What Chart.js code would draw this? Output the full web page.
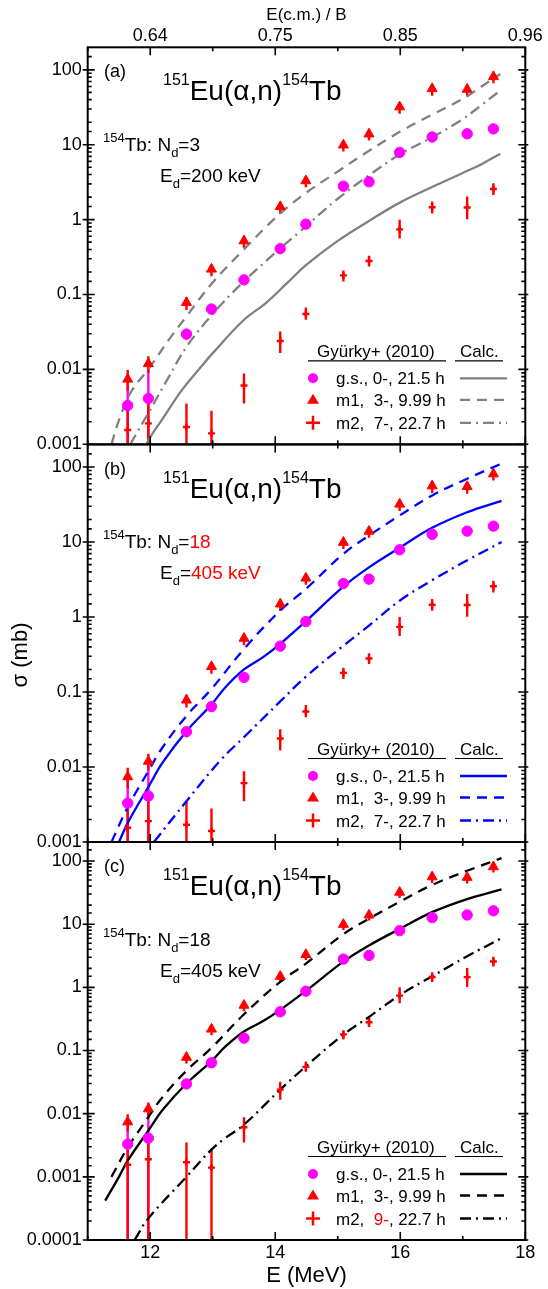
<!DOCTYPE html>
<html>
<head>
<meta charset="utf-8">
<script src="https://cdn.jsdelivr.net/npm/chart.js"></script>
<style>
html, body { margin: 0; padding: 0; background: #fff; }
body { width: 548px; height: 1289px; position: relative; overflow: hidden; }
canvas { position: absolute; left: 0; }
</style>
</head>
<body>
<canvas id="pa" width="548" height="452" style="top:0px"></canvas>
<canvas id="pb" width="548" height="420" style="top:437px"></canvas>
<canvas id="pc" width="548" height="455" style="top:834px"></canvas>
<script>
// measured points, Gyurky+ (2010) -- energies in MeV, sigma in mb
const energy = [11.64, 11.97, 12.58, 12.98, 13.50, 14.08, 14.49, 15.09, 15.50, 15.99, 16.51, 17.07, 17.49];

const gsSigma = [0.0033, 0.0041, 0.0296, 0.064, 0.157, 0.41, 0.87, 2.8, 3.2, 7.9, 12.7, 14.0, 16.3];
const gsHi    = [0.0072, 0.0105, 0.035, 0.074, 0.18, 0.47, 0.98, 3.1, 3.6, 8.8, 14.2, 15.6, 18.3];
const gsLo    = [0, 0, 0.025, 0.054, 0.135, 0.35, 0.76, 2.5, 2.85, 7.0, 11.3, 12.5, 14.4];

const m1Sigma = [0.0074, 0.0119, 0.078, 0.218, 0.52, 1.49, 3.3, 9.9, 13.9, 32, 56, 55, 81];
const m1Hi    = [0.0098, 0.0150, 0.092, 0.25, 0.60, 1.72, 3.8, 11.4, 16.0, 37, 65, 63, 95];
const m1Lo    = [0.0052, 0.0090, 0.062, 0.175, 0.42, 1.20, 2.7, 8.1, 11.4, 26, 45, 44, 66];

const m2Sigma = [0.00155, 0.0019, 0.0017, 0.0014, 0.0061, 0.024, 0.055, 0.18, 0.28, 0.74, 1.46, 1.45, 2.57];
const m2Hi    = [0.0031, 0.0039, 0.0035, 0.0028, 0.0088, 0.032, 0.067, 0.21, 0.33, 1.0, 1.74, 2.03, 3.05];
const m2Lo    = [0, 0, 0, 0, 0.0035, 0.0166, 0.046, 0.149, 0.236, 0.56, 1.21, 1.01, 2.13];

// calculations, panel (a): Nd=3, Ed=200 keV
const aGsE = [11.94, 12.0, 12.2, 12.5, 12.8, 13.0, 13.5, 13.85, 14.2, 14.5, 15.0, 15.5, 16.0, 16.5, 17.0, 17.3, 17.6];
const aGs  = [0.001, 0.00125, 0.0022, 0.0052, 0.0105, 0.0165, 0.046, 0.077, 0.145, 0.25, 0.52, 0.96, 1.7, 2.7, 4.2, 5.5, 7.6];
const aM1E = [11.38, 11.5, 11.68, 12.0, 12.3, 12.58, 13.0, 13.5, 14.0, 14.4, 15.0, 15.5, 16.0, 16.5, 17.0, 17.3, 17.6];
const aM1  = [0.001, 0.0021, 0.0048, 0.0109, 0.025, 0.051, 0.145, 0.40, 1.05, 2.0, 4.4, 8.3, 15, 25, 41, 60, 88];
const aM2E = [11.68, 12.0, 12.3, 12.58, 13.0, 13.5, 14.0, 14.4, 15.0, 15.5, 16.0, 16.5, 17.0, 17.3, 17.6];
const aM2  = [0.001, 0.0029, 0.008, 0.02, 0.055, 0.15, 0.36, 0.7, 1.9, 3.9, 7.5, 12.5, 22, 34, 53];

// calculations, panels (b) and (c): Nd=18, Ed=405 keV
const bcGsE = [11.28, 11.5, 11.64, 11.97, 12.2, 12.58, 12.98, 13.2, 13.5, 13.8, 14.08, 14.49, 15.09, 15.5, 15.99, 16.51, 17.07, 17.62];
const bcGs  = [0.00042, 0.001, 0.0018, 0.0054, 0.0115, 0.030, 0.068, 0.115, 0.20, 0.29, 0.44, 0.88, 2.55, 4.6, 8.4, 15.5, 25, 35.5];
const bcM1E = [11.38, 11.64, 11.97, 12.18, 12.58, 12.98, 13.5, 14.08, 14.49, 15.09, 15.5, 15.99, 16.51, 17.07, 17.62];
const bcM1  = [0.001, 0.0029, 0.0088, 0.0174, 0.048, 0.11, 0.375, 1.22, 2.37, 6.95, 12.2, 22.6, 41.8, 70, 111];
const bM2E  = [12.06, 12.58, 13.14, 13.5, 14.08, 14.49, 15.09, 15.5, 15.99, 16.51, 17.07, 17.62];
const bM2   = [0.001, 0.0035, 0.0127, 0.025, 0.075, 0.16, 0.415, 0.77, 1.65, 3.1, 5.7, 10];
const cM2E  = [11.75, 11.97, 12.58, 12.98, 13.2, 13.5, 14.08, 14.49, 15.09, 15.5, 15.99, 16.51, 17.07, 17.62];
const cM2   = [0.0001, 0.00022, 0.001, 0.0027, 0.0041, 0.0067, 0.024, 0.056, 0.178, 0.34, 0.75, 1.5, 3.1, 6.0];

// axes
const xMin = 11, xMax = 18;
const bottomTicks = [12, 14, 16, 18];
const topTickLabels = ['0.64', '0.75', '0.85', '0.96'];
const yTickLabels = ['0.0001', '0.001', '0.01', '0.1', '1', '10', '100'];
const yMax = 200;

// legend texts
const legendHeader = 'Gyürky+ (2010)';
const legendCalc = 'Calc.';
const legendRows = ['g.s., 0-, 21.5 h', 'm1,  3-, 9.99 h', 'm2,  7-, 22.7 h'];

const FONT = "'Liberation Sans', Arial, Helvetica, sans-serif";
const MAGENTA = '#ff00ff', RED = '#ff0000';
const DASH = [10, 7], DASHDOT = [11, 5, 2, 5];

Chart.defaults.font.family = FONT;
Chart.defaults.color = '#000';

const panelInfo = {
  pa: { tag: '(a)', color: '#808080', nd: '3', ed: '200 keV', redParams: false, spin9: false },
  pb: { tag: '(b)', color: '#0000ff', nd: '18', ed: '405 keV', redParams: true, spin9: false, sigma: true },
  pc: { tag: '(c)', color: '#000000', nd: '18', ed: '405 keV', redParams: false, spin9: true }
};

function pts(xs, ys) { return xs.map((x, i) => ({ x: x, y: ys[i] })); }

function isDecade(v) {
  const l = Math.log10(v);
  return Math.abs(l - Math.round(l)) < 1e-6;
}

function yLabel(v) {
  const s = yTickLabels.find(t => Math.abs(Math.log10(parseFloat(t)) - Math.log10(v)) < 1e-6);
  return s || '';
}

function rich(ctx, x, y, segs) {
  segs.forEach(s => {
    ctx.font = s.size + 'px ' + FONT;
    ctx.fillStyle = s.color || '#000';
    ctx.fillText(s.t, x, y + (s.dy || 0));
    x += ctx.measureText(s.t).width;
  });
}

// vertical error bars, drawn through the y scale
const errorBars = {
  id: 'errorBars',
  beforeDatasetsDraw(chart) {
    const ctx = chart.ctx, ys = chart.scales.y, a = chart.chartArea;
    ctx.save();
    ctx.beginPath();
    ctx.rect(a.left, a.top, a.right - a.left, a.bottom - a.top);
    ctx.clip();
    chart.data.datasets.forEach((ds, i) => {
      if (!ds.errHi) return;
      const meta = chart.getDatasetMeta(i);
      ctx.strokeStyle = ds.borderColor;
      ctx.lineWidth = 2.4;
      meta.data.forEach((el, j) => {
        const lo = Math.max(ds.errLo[j], ys.min / 10);
        ctx.beginPath();
        ctx.moveTo(el.x, ys.getPixelForValue(lo));
        ctx.lineTo(el.x, ys.getPixelForValue(ds.errHi[j]));
        ctx.stroke();
      });
    });
    ctx.restore();
  }
};

// frame with inward ticks, texts and legend table
const decor = {
  id: 'decor',
  afterDraw(chart) {
    const ctx = chart.ctx, a = chart.chartArea, xs = chart.scales.x, ys = chart.scales.y;
    const info = panelInfo[chart.canvas.id];
    ctx.save();
    ctx.strokeStyle = '#000';
    ctx.lineWidth = 1.6;
    ctx.beginPath();
    xs.ticks.forEach(t => {
      const px = xs.getPixelForValue(t.value);
      const len = bottomTicks.includes(t.value) ? 8 : 4;
      ctx.moveTo(px, a.bottom); ctx.lineTo(px, a.bottom - len);
      ctx.moveTo(px, a.top); ctx.lineTo(px, a.top + len);
    });
    ys.ticks.forEach(t => {
      const py = ys.getPixelForValue(t.value);
      if (py < a.top + 1 || py > a.bottom + 0.5) return;
      const major = isDecade(t.value);
      const inL = major ? 7 : 4;
      ctx.moveTo(a.left - (major ? 5 : 0), py); ctx.lineTo(a.left + inL, py);
      ctx.moveTo(a.right + (major ? 3 : 0), py); ctx.lineTo(a.right - inL, py);
    });
    ctx.stroke();
    ctx.lineWidth = 2;
    ctx.strokeRect(a.left, a.top, a.right - a.left, a.bottom - a.top);

    ctx.textBaseline = 'alphabetic';
    ctx.textAlign = 'left';
    // panel tag and reaction title
    rich(ctx, 104, a.top + 30, [{ t: info.tag, size: 18 }]);
    rich(ctx, 163, a.top + 53, [
      { t: '151', size: 16, dy: -15 }, { t: 'Eu(\u03b1,n)', size: 28 },
      { t: '154', size: 16, dy: -15 }, { t: 'Tb', size: 28 }
    ]);
    const pc = info.redParams ? RED : '#000';
    rich(ctx, 103, a.top + 103.5, [
      { t: '154', size: 13, dy: -9 }, { t: 'Tb: N', size: 19 }, { t: 'd', size: 13, dy: 6 },
      { t: '=', size: 19 }, { t: info.nd, size: 19, color: pc }
    ]);
    rich(ctx, 160, a.top + 134.5, [
      { t: 'E', size: 19 }, { t: 'd', size: 13, dy: 6 }, { t: '=', size: 19 }, { t: info.ed, size: 19, color: pc }
    ]);

    // legend table
    const B = a.bottom;
    rich(ctx, 317, B - 87, [{ t: legendHeader, size: 17 }]);
    rich(ctx, 460, B - 87, [{ t: legendCalc, size: 17 }]);
    ctx.strokeStyle = '#000';
    ctx.lineWidth = 1.2;
    ctx.beginPath();
    ctx.moveTo(308, B - 83.5); ctx.lineTo(446, B - 83.5);
    ctx.moveTo(455, B - 83.5); ctx.lineTo(503, B - 83.5);
    ctx.stroke();
    const rowY = [B - 66, B - 44.5, B - 21.5];
    const dashes = [[], DASH, DASHDOT];
    rowY.forEach((cy, k) => {
      if (k === 0) {
        ctx.fillStyle = MAGENTA;
        ctx.beginPath(); ctx.arc(313, cy, 5, 0, Math.PI * 2); ctx.fill();
      } else if (k === 1) {
        ctx.fillStyle = RED;
        ctx.beginPath(); ctx.moveTo(313, cy - 6); ctx.lineTo(319, cy + 4); ctx.lineTo(307, cy + 4); ctx.closePath(); ctx.fill();
      } else {
        ctx.strokeStyle = RED; ctx.lineWidth = 2.5;
        ctx.beginPath(); ctx.moveTo(306, cy); ctx.lineTo(320, cy); ctx.moveTo(313, cy - 7); ctx.lineTo(313, cy + 7); ctx.stroke();
      }
      if (k === 2 && info.spin9) {
        rich(ctx, 336, cy + 6, [{ t: 'm2,  ', size: 17 }, { t: '9-', size: 17, color: RED }, { t: ', 22.7 h', size: 17 }]);
      } else {
        rich(ctx, 336, cy + 6, [{ t: legendRows[k], size: 17 }]);
      }
      ctx.save();
      ctx.strokeStyle = info.color; ctx.lineWidth = 2.3;
      ctx.setLineDash(dashes[k]);
      ctx.beginPath(); ctx.moveTo(460, cy); ctx.lineTo(507, cy); ctx.stroke();
      ctx.restore();
    });

    if (info.sigma) {
      ctx.save();
      ctx.translate(21, 655 - 437);
      ctx.rotate(-Math.PI / 2);
      ctx.textAlign = 'center';
      ctx.textBaseline = 'middle';
      ctx.font = '22px ' + FONT;
      ctx.fillStyle = '#000';
      ctx.fillText('\u03c3 (mb)', 0, 0);
      ctx.restore();
    }
    ctx.restore();
  }
};

function markerSets() {
  return [
    { label: 'g.s.', data: pts(energy, gsSigma), errHi: gsHi, errLo: gsLo, pointStyle: 'circle',
      pointRadius: 5.2, backgroundColor: MAGENTA, borderColor: MAGENTA, pointBorderWidth: 1 },
    { label: 'm1', data: pts(energy, m1Sigma), errHi: m1Hi, errLo: m1Lo, pointStyle: 'triangle',
      pointRadius: 5.8, backgroundColor: RED, borderColor: RED, pointBorderWidth: 1 },
    { label: 'm2', data: pts(energy, m2Sigma), errHi: m2Hi, errLo: m2Lo, pointStyle: 'cross',
      pointRadius: 3.5, backgroundColor: RED, borderColor: RED, pointBorderWidth: 2.4 }
  ];
}

function curve(xs, ys, color, dash) {
  return { data: pts(xs, ys), showLine: true, pointRadius: 0, borderColor: color, borderWidth: 2.3,
    borderDash: dash, tension: 0.4, fill: false };
}

function xScale(show) {
  return {
    type: 'linear', position: 'bottom', min: xMin, max: xMax, display: show,
    grid: { display: false, drawTicks: false }, border: { display: false },
    ticks: { stepSize: 1, autoSkip: false, maxRotation: 0, padding: 2, font: { size: 18 },
      callback: v => bottomTicks.includes(v) ? String(v) : '' },
    title: { display: show, text: 'E (MeV)', font: { size: 22 }, padding: { top: 0, bottom: 0 } },
    afterFit: s => { s.paddingLeft = 0; s.paddingRight = 0; if (show) s.height = 49; }
  };
}

function yScale(min) {
  return {
    type: 'logarithmic', min: min, max: yMax,
    grid: { display: false, drawTicks: false }, border: { display: false },
    ticks: { autoSkip: false, padding: 6, font: { size: 18 }, callback: v => yLabel(v) },
    afterFit: s => { s.width = 87.7; s.paddingTop = 0; s.paddingBottom = 0; }
  };
}

function makeChart(id, curves, scales, padding) {
  new Chart(document.getElementById(id), {
    type: 'scatter',
    data: { datasets: markerSets().concat(curves) },
    options: {
      responsive: false, animation: false, events: [],
      layout: { padding: padding },
      scales: scales,
      plugins: { legend: { display: false }, tooltip: { enabled: false } }
    },
    plugins: [errorBars, decor]
  });
}

const grayC = panelInfo.pa.color, blueC = panelInfo.pb.color, blackC = panelInfo.pc.color;

makeChart('pa', [
  curve(aGsE, aGs, grayC, []),
  curve(aM1E, aM1, grayC, DASH),
  curve(aM2E, aM2, grayC, DASHDOT)
], {
  x: xScale(false),
  x2: {
    type: 'linear', axis: 'x', position: 'top', min: xMin, max: xMax,
    grid: { display: false, drawTicks: false }, border: { display: false },
    ticks: { stepSize: 1, autoSkip: false, maxRotation: 0, padding: 0, font: { size: 18 },
      callback: v => { const i = bottomTicks.indexOf(v); return i < 0 ? '' : topTickLabels[i]; } },
    title: { display: true, text: 'E(c.m.) / B', font: { size: 17 }, padding: { top: 5, bottom: 0 } },
    afterFit: s => { s.height = 47.3; s.paddingLeft = 0; s.paddingRight = 0; }
  },
  y: yScale(0.001)
}, { left: 0, right: 22.7, top: 0, bottom: 7.7 });

makeChart('pb', [
  curve(bcGsE, bcGs, blueC, []),
  curve(bcM1E, bcM1, blueC, DASH),
  curve(bM2E, bM2, blueC, DASHDOT)
], { x: xScale(false), y: yScale(0.001) }, { left: 0, right: 22.7, top: 7.5, bottom: 15 });

makeChart('pc', [
  curve(bcGsE, bcGs, blackC, []),
  curve(bcM1E, bcM1, blackC, DASH),
  curve(cM2E, cM2, blackC, DASHDOT)
], { x: xScale(true), y: yScale(0.0001) }, { left: 0, right: 22.7, top: 8, bottom: 0 });
</script>
</body>
</html>
